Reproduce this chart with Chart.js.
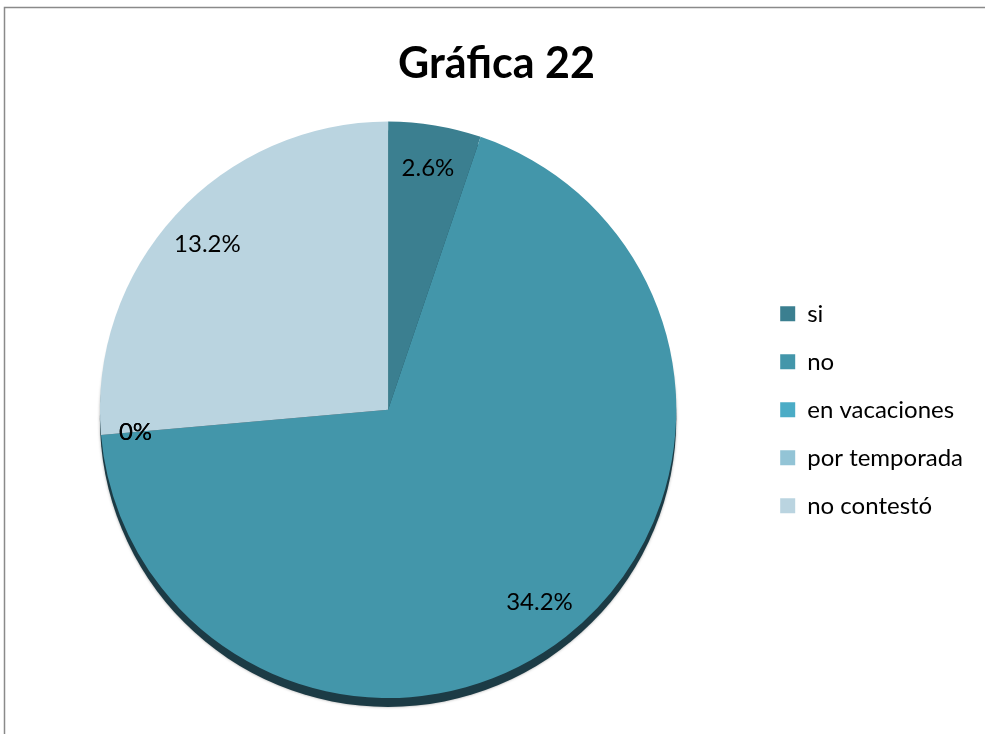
<!DOCTYPE html>
<html>
<head>
<meta charset="utf-8">
<script src="https://cdn.jsdelivr.net/npm/chart.js@4"></script>
<style>
  body { margin: 0; background: #fff; }
  #wrap { width: 985px; height: 734px; position: relative; }
</style>
</head>
<body>
<div id="wrap"><canvas id="pieChart"></canvas></div>
<script>
const categories = ['si', 'no', 'en vacaciones', 'por temporada', 'no contestó'];
const values = [2.6, 34.2, 0, 0, 13.2];
const sliceColors = ['#3B7F90', '#4396AA', '#4BACC6', '#93C4D6', '#BAD4E0'];

// marco gris alrededor del grafico
const framePlugin = {
    id: 'frame',
    beforeDraw: function(chart) {
        const ctx = chart.ctx;
        ctx.save();
        ctx.fillStyle = '#fff';
        ctx.fillRect(0, 0, chart.width, chart.height);
        ctx.strokeStyle = '#8a8a8a';
        ctx.lineWidth = 1.5;
        ctx.strokeRect(4.5, 7.5, chart.width + 50, chart.height + 50);
        ctx.restore();
    }
};

// borde oscuro bajo el pastel (efecto 3D)
const rimPlugin = {
    id: 'rim',
    beforeDatasetsDraw: function(chart) {
        const arc = chart.getDatasetMeta(0).data[0];
        if (!arc) return;
        const p = arc.getProps(['x', 'y', 'outerRadius'], true);
        const ctx = chart.ctx;
        ctx.save();
        ctx.fillStyle = '#1C3B45';
        ctx.shadowColor = 'rgba(0,0,0,0.35)';
        ctx.shadowBlur = 3;
        ctx.beginPath();
        ctx.arc(p.x, p.y + 9, p.outerRadius, 0, Math.PI * 2);
        ctx.fill();
        ctx.restore();
    }
};

// etiquetas de valor sobre cada sector
const valueLabels = {
    id: 'valueLabels',
    afterDatasetsDraw: function(chart) {
        const ctx = chart.ctx;
        const meta = chart.getDatasetMeta(0);
        ctx.save();
        ctx.fillStyle = '#000';
        ctx.font = 'normal 24px Lato';
        ctx.textAlign = 'center';
        ctx.textBaseline = 'middle';
        meta.data.forEach((el, i) => {
            const p = el.getProps(['x', 'y', 'startAngle', 'endAngle', 'outerRadius'], true);
            const mid = (p.startAngle + p.endAngle) / 2;
            const r = p.outerRadius * (values[i] === 0 ? 0.88 : 0.85);
            ctx.fillText(values[i] + '%', p.x + Math.cos(mid) * r, p.y + Math.sin(mid) * r);
        });
        ctx.restore();
    }
};

const ctx = document.getElementById('pieChart').getContext('2d');
const pieChart = new Chart(ctx, {
    type: 'pie',
    data: {
        labels: categories,
        datasets: [{
            data: values,
            backgroundColor: sliceColors,
            borderWidth: 0,
            hoverOffset: 0
        }]
    },
    options: {
        responsive: true,
        maintainAspectRatio: false,
        animation: false,
        layout: {
            padding: { left: 20, right: 12, top: 0, bottom: 36 }
        },
        plugins: {
            title: {
                display: true,
                text: 'Gráfica 22',
                color: '#000',
                font: { family: 'Lato', size: 43, weight: 'bold' },
                padding: { top: 38, bottom: 32 }
            },
            legend: {
                position: 'right',
                fullSize: false,
                labels: {
                    color: '#000',
                    boxWidth: 15,
                    boxHeight: 15,
                    padding: 24,
                    font: { family: 'Lato', size: 24 }
                }
            },
            tooltip: { enabled: false }
        }
    },
    plugins: [framePlugin, rimPlugin, valueLabels]
});
</script>
</body>
</html>
